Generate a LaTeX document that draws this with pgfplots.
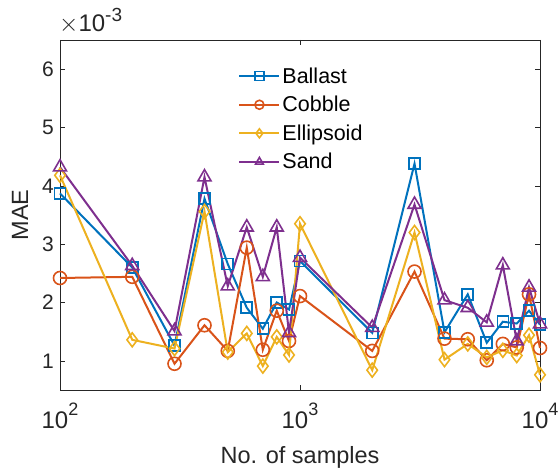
\documentclass[border=0pt]{standalone}
\usepackage{pgfplots}
\pgfplotsset{compat=1.18}
\usepackage{fontspec}
\setmainfont{Liberation Sans}
\definecolor{mB}{rgb}{0,0.447,0.741}
\definecolor{mC}{rgb}{0.85,0.325,0.098}
\definecolor{mE}{rgb}{0.929,0.694,0.125}
\definecolor{mS}{rgb}{0.494,0.184,0.556}
\definecolor{ax}{rgb}{0.15,0.15,0.15}
\newcommand\tsup[1]{\raisebox{13pt}{\fontsize{18}{20}\selectfont #1}}
\begin{document}
\begin{tikzpicture}[x=1pt,y=1pt]
\path[use as bounding box] (-60,-80) rectangle (500,390);
\begin{axis}[
  at={(0,0)}, anchor=south west,
  scale only axis, width=480pt, height=350pt,
  xmode=log, log basis x=10,
  xmin=100, xmax=10000, ymin=0.5, ymax=6.5,
  xtick={100,1000,10000},
  xticklabels={10\tsup{2},10\tsup{3},10\tsup{4}},
  ytick={1,2,3,4,5,6},
  /pgf/number format/assume math mode=true,
  tick align=inside,
  major tick length=5pt, minor tick length=5pt,
  axis line style={ax, line width=0.6pt},
  every tick/.style={ax, line width=0.6pt},
  yticklabel style={ax, font=\fontsize{21}{25}\selectfont, anchor=east, inner sep=0pt, xshift=-6pt},
  xticklabel style={ax, font=\fontsize{24}{28}\selectfont, anchor=base, inner sep=0pt, yshift=-39pt},
  xlabel={No. of samples}, ylabel={MAE},
  xlabel style={ax, font=\fontsize{23.5}{27}\selectfont, at={(axis description cs:0.5,-0.2086)}, anchor=base},
  ylabel style={ax, font=\fontsize{23.5}{27}\selectfont, at={(axis description cs:-0.0833,0.5)}, anchor=center},
  legend style={at={(0.365,0.933)}, anchor=north west, draw=none, fill=none,
    font=\fontsize{21.5}{25}\selectfont, row sep=7.5pt, text=black},
  legend cell align=left,
  legend image code/.code={\draw[mark repeat=2,mark phase=2, mark size=4.5pt] plot coordinates {(0pt,0pt) (20pt,0pt) (40pt,0pt)};},
  every axis plot/.append style={line width=2pt, mark options={solid, fill=none, line width=1.6pt}},
  clip=false,
]
\addplot[mB, mark=square, mark size=5.5pt] coordinates {
(100,3.87) (200,2.60) (300,1.26) (400,3.78) (500,2.66) (600,1.91) (700,1.55) (800,2.00) (900,1.88) (1000,2.71)
(2000,1.48) (3000,4.38) (4000,1.49) (5000,2.14) (6000,1.31) (7000,1.67) (8000,1.64) (9000,1.86) (10000,1.62)};
\addlegendentry{Ballast}
\addplot[mC, mark=o, mark size=6.5pt] coordinates {
(100,2.42) (200,2.44) (300,0.95) (400,1.61) (500,1.17) (600,2.94) (700,1.19) (800,1.86) (900,1.34) (1000,2.11)
(2000,1.17) (3000,2.53) (4000,1.38) (5000,1.37) (6000,1.01) (7000,1.29) (8000,1.23) (9000,2.14) (10000,1.22)};
\addlegendentry{Cobble}
\addplot[mE, mark=diamond, mark size=7pt] coordinates {
(100,4.18) (200,1.36) (300,1.21) (400,3.56) (500,1.15) (600,1.47) (700,0.91) (800,1.41) (900,1.10) (1000,3.35)
(2000,0.84) (3000,3.20) (4000,1.02) (5000,1.29) (6000,1.06) (7000,1.18) (8000,1.09) (9000,1.44) (10000,0.76)};
\addlegendentry{Ellipsoid}
\addplot[mS, mark=triangle, mark size=7.5pt] coordinates {
(100,4.32) (200,2.63) (300,1.51) (400,4.15) (500,2.28) (600,3.29) (700,2.44) (800,3.29) (900,1.48) (1000,2.77)
(2000,1.57) (3000,3.68) (4000,2.04) (5000,1.91) (6000,1.66) (7000,2.64) (8000,1.34) (9000,2.26) (10000,1.63)};
\addlegendentry{Sand}
\end{axis}
\node[anchor=base west, text=ax, inner sep=0pt, font=\fontsize{24}{28}\selectfont] at (-1,358) {$\times$10\raisebox{10pt}{\fontsize{19}{21}\selectfont -3}};
\end{tikzpicture}
\end{document}
